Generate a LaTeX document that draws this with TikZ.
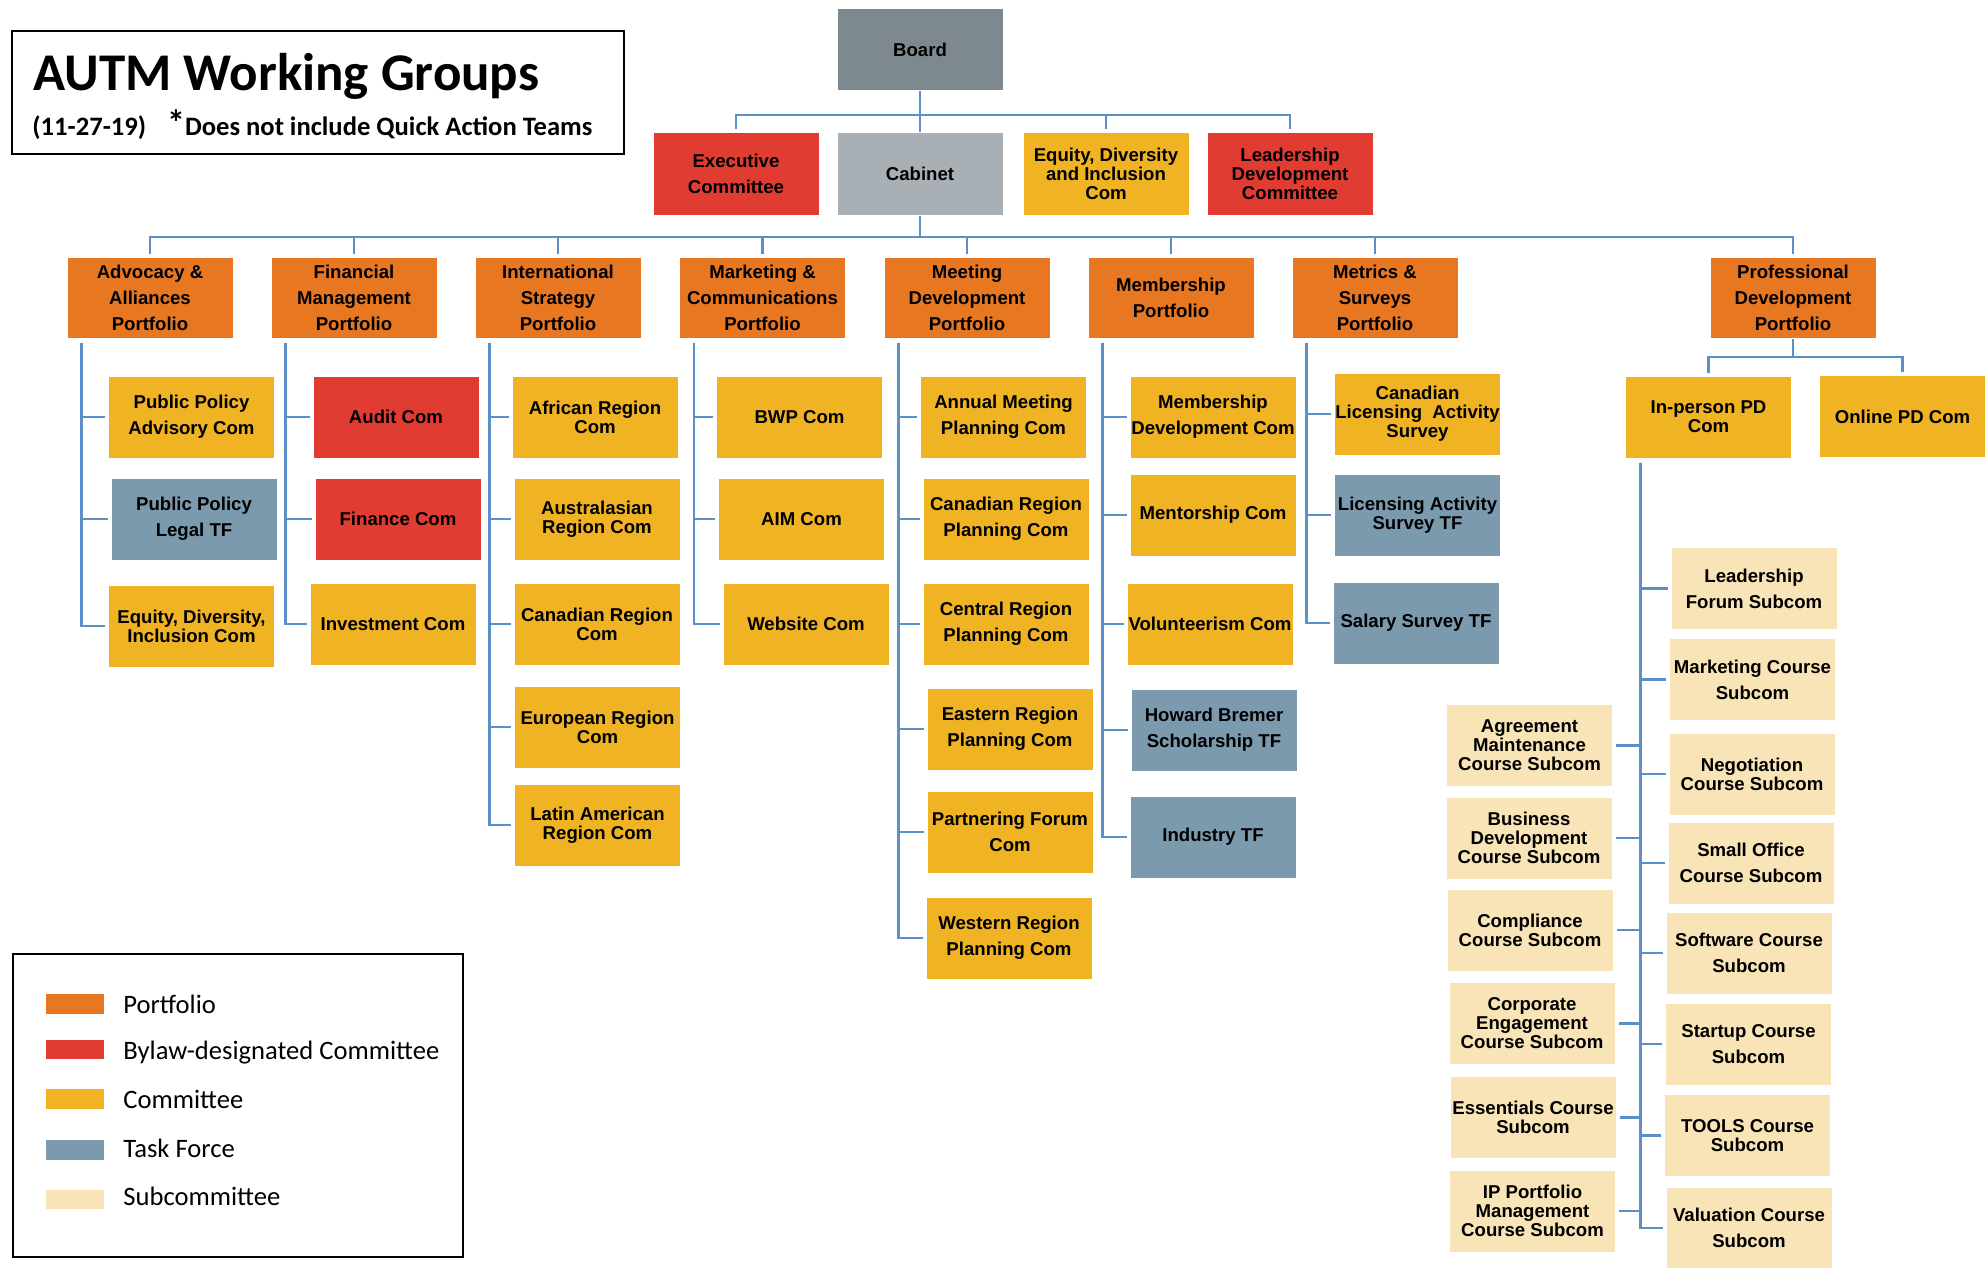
\documentclass[tikz,border=0pt]{standalone}
\usepackage{fontspec}
\setmainfont{Liberation Sans}
\newfontfamily\calib{Carlito}
\usetikzlibrary{calc}
\definecolor{cPort}{HTML}{E87722}
\definecolor{cByl}{HTML}{E03C31}
\definecolor{cCom}{HTML}{F0B323}
\definecolor{cTF}{HTML}{7B9AAE}
\definecolor{cSub}{HTML}{F8E4B6}
\definecolor{cBoard}{HTML}{7E898F}
\definecolor{cCab}{HTML}{A8AFB5}
\definecolor{cLine}{HTML}{5A8FC8}
\pgfdeclarelayer{bg}
\pgfsetlayers{bg,main}
\newcommand\nfLoose{\fontsize{9.3pt}{13pt}\selectfont\bfseries}
\newcommand\nfTight{\fontsize{9.3pt}{9.5pt}\selectfont\bfseries}
\tikzset{
  box/.style={inner sep=0pt, minimum width=83pt, minimum height=41pt, align=center, font=\nfLoose, draw=white, line width=0.5pt},
  tightlines/.style={font=\nfTight},
  port/.style={box, fill=cPort, minimum height=40.5pt},
  byl/.style={box, fill=cByl},
  com/.style={box, fill=cCom},
  tf/.style={box, fill=cTF},
  sub/.style={box, fill=cSub},
  conn/.style={draw=cLine, line width=1.4pt},
  connA/.style={conn, shorten <=1.5pt},
  connB/.style={conn, shorten <=2pt, shorten >=1.5pt},
  swatch/.style={inner sep=0pt, minimum width=29pt, minimum height=9.75pt},
  legtext/.style={anchor=base west, inner sep=0pt, font=\calib\fontsize{13.3pt}{15pt}\selectfont},
}
\begin{document}
\begin{tikzpicture}[x=0.5pt,y=-0.5pt]
\useasboundingbox (0,0) rectangle (1985,1268);

% title
\node[draw=black, line width=0.9pt, inner sep=0pt, minimum width=306pt, minimum height=61.5pt] (titlebox) at (318,92.5) {};
\node[anchor=base west, inner sep=0pt, font=\calib\fontsize{26.5pt}{30pt}\selectfont\bfseries] (title) at (33,90.7) {AUTM Working Groups};
\node[anchor=base west, inner sep=0pt, font=\calib\fontsize{13.3pt}{16pt}\selectfont\bfseries] (subtitle) at (32,135) {(11-27-19)\hspace{10.5pt}{\fontsize{18pt}{18pt}\selectfont *}Does not include Quick Action Teams};

% top
\node[box, fill=cBoard] (board) at (920,50) {Board};
\node[byl] (exec) at (736,174) {Executive\\Committee};
\node[box, fill=cCab] (cab) at (920,174) {Cabinet};
\node[com, tightlines] (edi) at (1106,174) {Equity, Diversity\\and Inclusion\\Com};
\node[byl, tightlines] (ldc) at (1290,174) {Leadership\\Development\\Committee};

% portfolios
\node[port] (adv) at (150,297.5) {Advocacy \&\\Alliances\\Portfolio};
\node[port] (fin) at (354,297.5) {Financial\\Management\\Portfolio};
\node[port] (intl) at (558,297.5) {International\\Strategy\\Portfolio};
\node[port] (mkt) at (762.5,297.5) {Marketing \&\\Communications\\Portfolio};
\node[port] (meet) at (967,297.5) {Meeting\\Development\\Portfolio};
\node[port] (memb) at (1171,297.5) {Membership\\Portfolio};
\node[port] (metr) at (1375,297.5) {Metrics \&\\Surveys\\Portfolio};
\node[port] (prof) at (1793,297.5) {Professional\\Development\\Portfolio};

% advocacy
\node[com] (ppa) at (191.5,417) {Public Policy\\Advisory Com};
\node[tf] (ppl) at (194,519) {Public Policy\\Legal TF};
\node[com, tightlines] (edic) at (191.5,626) {Equity, Diversity,\\Inclusion Com};
% financial
\node[byl] (audit) at (396,417) {Audit Com};
\node[byl] (finance) at (398,519) {Finance Com};
\node[com] (invest) at (393,624) {Investment Com};
% international
\node[com, tightlines] (afr) at (595,417) {African Region\\Com};
\node[com, tightlines] (aus) at (597,519) {Australasian\\Region Com};
\node[com, tightlines] (canr) at (597,624) {Canadian Region\\Com};
\node[com, tightlines] (eur) at (597.5,727) {European Region\\Com};
\node[com, tightlines] (lat) at (597.5,825) {Latin American\\Region Com};
% marketing
\node[com] (bwp) at (799.5,417) {BWP Com};
\node[com] (aim) at (801.5,519) {AIM Com};
\node[com] (web) at (806,624) {Website Com};
% meeting
\node[com] (annual) at (1003.5,417) {Annual Meeting\\Planning Com};
\node[com] (canrp) at (1006,519) {Canadian Region\\Planning Com};
\node[com] (central) at (1006,624) {Central Region\\Planning Com};
\node[com] (eastern) at (1010,729) {Eastern Region\\Planning Com};
\node[com] (partner) at (1010,832) {Partnering Forum\\Com};
\node[com] (western) at (1009,938) {Western Region\\Planning Com};
% membership
\node[com] (memdev) at (1213,417) {Membership\\Development Com};
\node[com] (mentor) at (1213,515) {Mentorship Com};
\node[com] (volunt) at (1210,624) {Volunteerism Com};
\node[tf] (howard) at (1214,730) {Howard Bremer\\Scholarship TF};
\node[tf] (industry) at (1213,837) {Industry TF};
% metrics
\node[com, tightlines] (clas) at (1417.5,414) {Canadian\\Licensing\ \ Activity\\Survey};
\node[tf, tightlines] (lastf) at (1417.5,515) {Licensing Activity\\Survey TF};
\node[tf] (salary) at (1416,623) {Salary Survey TF};
% professional
\node[com, tightlines] (inp) at (1708.5,417) {In-person PD\\Com};
\node[com] (online) at (1902.5,416.5) {Online PD Com};
% right subcoms
\node[sub] (lfs) at (1754,588.5) {Leadership\\Forum Subcom};
\node[sub] (mcs) at (1752.5,679.5) {Marketing Course\\Subcom};
\node[sub, tightlines] (neg) at (1752,774) {Negotiation\\Course Subcom};
\node[sub] (small) at (1751,863) {Small Office\\Course Subcom};
\node[sub] (soft) at (1749,953) {Software Course\\Subcom};
\node[sub] (start) at (1748.5,1044) {Startup Course\\Subcom};
\node[sub, tightlines] (tools) at (1747.5,1135.5) {TOOLS Course\\Subcom};
\node[sub] (valu) at (1749,1228) {Valuation Course\\Subcom};
% left subcoms
\node[sub, tightlines] (agree) at (1529.5,745.5) {Agreement\\Maintenance\\Course Subcom};
\node[sub, tightlines] (busdev) at (1529,838) {Business\\Development\\Course Subcom};
\node[sub, tightlines] (compl) at (1530,930) {Compliance\\Course Subcom};
\node[sub, tightlines] (corp) at (1532,1023.5) {Corporate\\Engagement\\Course Subcom};
\node[sub, tightlines] (essen) at (1533,1117.5) {Essentials Course\\Subcom};
\node[sub, tightlines] (ipm) at (1532.5,1211) {IP Portfolio\\Management\\Course Subcom};

% legend
\node[draw=black, line width=1.1pt, inner sep=0pt, minimum width=225pt, minimum height=151.5pt] (legbox) at (238,1105.5) {};
\node[swatch, fill=cPort] (lgP) at (75,1004) {};
\node[swatch, fill=cByl] (lgB) at (75,1049.5) {};
\node[swatch, fill=cCom] (lgC) at (75,1099) {};
\node[swatch, fill=cTF] (lgT) at (75,1150) {};
\node[swatch, fill=cSub] (lgS) at (75,1199.5) {};
\node[legtext] (lgPt) at (123,1013) {Portfolio};
\node[legtext] (lgBt) at (123,1059.5) {Bylaw-designated Committee};
\node[legtext] (lgCt) at (123,1108) {Committee};
\node[legtext] (lgTt) at (123,1157) {Task Force};
\node[legtext] (lgSt) at (123,1205) {Subcommittee};

% coordinates
\coordinate (bus1) at (920,115);
\coordinate (bus2) at (920,237);
\coordinate (profbus) at (1793,357);
\coordinate (advS) at ($(adv.south west)+(15,0)$);
\coordinate (finS) at ($(fin.south west)+(15,0)$);
\coordinate (intlS) at ($(intl.south west)+(15,0)$);
\coordinate (mktS) at ($(mkt.south west)+(15,0)$);
\coordinate (meetS) at ($(meet.south west)+(15,0)$);
\coordinate (membS) at ($(memb.south west)+(15,0)$);
\coordinate (metrS) at ($(metr.south west)+(15,0)$);
\coordinate (inpS) at ($(inp.south west)+(15.5,0)$);

\begin{pgfonlayer}{bg}
\draw[conn] (board.south) -- (cab.north);
\foreach \n in {exec,edi,ldc} \draw[connA] (\n.north) |- (bus1);
\draw[conn] (cab.south) -- (bus2);
\foreach \n in {adv,fin,intl,mkt,meet,memb,metr,prof} \draw[connA] (\n.north) |- (bus2);
\foreach \n in {ppa,ppl,edic} \draw[connB] (advS) |- (\n.west);
\foreach \n in {audit,finance,invest} \draw[connB] (finS) |- (\n.west);
\foreach \n in {afr,aus,canr,eur,lat} \draw[connB] (intlS) |- (\n.west);
\foreach \n in {bwp,aim,web} \draw[connB] (mktS) |- (\n.west);
\foreach \n in {annual,canrp,central,eastern,partner,western} \draw[connB] (meetS) |- (\n.west);
\foreach \n in {memdev,mentor,volunt,howard,industry} \draw[connB] (membS) |- (\n.west);
\foreach \n in {clas,lastf,salary} \draw[connB] (metrS) |- (\n.west);
\draw[conn] (prof.south) -- (profbus);
\foreach \n in {inp,online} \draw[connA] (\n.north) |- (profbus);
\foreach \n in {lfs,mcs,neg,small,soft,start,tools,valu} \draw[connB] (inpS) |- (\n.west);
\foreach \n in {agree,busdev,compl,corp,essen,ipm} \draw[connB] (inpS) |- (\n.east);
\end{pgfonlayer}
\end{tikzpicture}
\end{document}
